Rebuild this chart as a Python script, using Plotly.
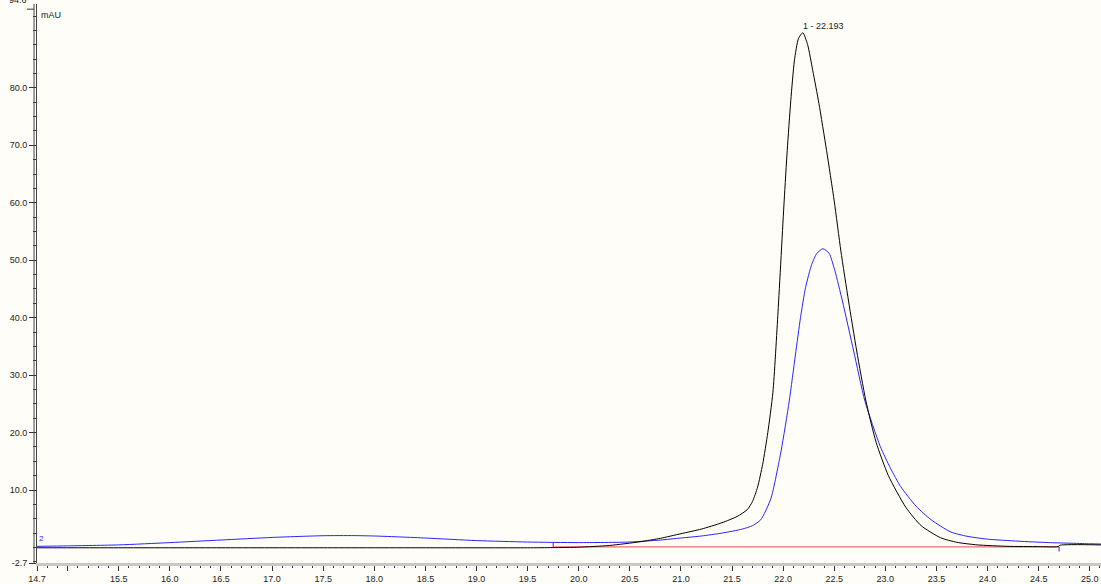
import plotly.graph_objects as go

# Retention time (min) / signal (mAU)
black_x = [14.70, 15.50, 16.50, 17.50, 18.50, 19.50, 19.75, 20.00, 20.30, 20.60, 20.80, 21.00, 21.20,
           21.40, 21.55, 21.65, 21.70, 21.75, 21.80, 21.85, 21.90, 21.95, 22.01, 22.04, 22.075,
           22.11, 22.15, 22.193, 22.24, 22.29, 22.35, 22.425, 22.50, 22.565, 22.64, 22.72, 22.81, 22.91,
           23.03, 23.20, 23.35, 23.54, 23.70, 23.90, 24.20, 24.50, 24.69, 24.71, 25.11]
black_y = [-0.05, -0.05, -0.05, -0.05, -0.05, -0.05, -0.02, 0.05, 0.35, 1.0, 1.6, 2.4, 3.2,
           4.3, 5.4, 6.6, 8.0, 10.5, 14.5, 20.0, 27.0, 41.0, 60.3, 69.1, 77.8,
           84.7, 88.6, 89.6, 87.5, 83.0, 77.3, 69.1, 60.3, 51.6, 42.9, 34.2, 25.5, 18.3,
           12.5, 7.0, 3.8, 1.7, 0.9, 0.45, 0.2, 0.15, 0.15, 0.4, 0.45]

blue_x = [14.70, 15.00, 15.50, 16.00, 16.50, 17.00, 17.50, 17.80, 18.00, 18.50, 19.00, 19.50,
          20.00, 20.50, 20.80, 21.00, 21.20, 21.40, 21.60, 21.70, 21.78, 21.88, 21.98, 22.06,
          22.12, 22.17, 22.22, 22.28, 22.33, 22.39, 22.45, 22.506, 22.58, 22.69, 22.80, 22.95, 23.05,
          23.15, 23.30, 23.45, 23.64, 23.80, 24.00, 24.30, 24.60, 25.00, 25.11]
blue_y = [0.20, 0.28, 0.45, 0.85, 1.30, 1.75, 2.05, 2.07, 2.00, 1.65, 1.20, 0.95,
          0.85, 0.95, 1.30, 1.65, 2.00, 2.50, 3.20, 3.80, 4.80, 8.50, 16.8, 25.5,
          33.5, 40.0, 45.3, 49.3, 51.2, 52.0, 51.2, 48.2, 42.9, 34.2, 25.5, 17.6, 13.8,
          10.6, 7.2, 4.8, 2.7, 1.95, 1.45, 1.10, 0.85, 0.65, 0.60]

baseline_x = [19.75, 24.70]
baseline_y = [0.10, 0.10]

peak_rt = 22.193
peak_height = 89.6
peak_label = "1 - 22.193"

x_min, x_max = 14.7, 25.11
y_min, y_max = -2.7, 94.6
y_top_label = 94.6

x_tickvals = [14.7] + [15.0 + 0.5 * i for i in range(21)]
x_ticktext = ["14.7", ""] + [f"{v:.1f}" for v in x_tickvals[2:]]
y_tickvals = [y_min, 10, 20, 30, 40, 50, 60, 70, 80]
y_ticktext = [f"{v:.1f}" for v in y_tickvals]

bg = "#FFFDF8"
font_fam = "Liberation Sans, Arial, sans-serif"

fig = go.Figure()
fig.add_trace(go.Scatter(x=blue_x, y=blue_y, mode="lines", line=dict(color="#2626FF", width=1, shape="spline", smoothing=0.6), hoverinfo="skip"))
fig.add_trace(go.Scatter(x=baseline_x, y=baseline_y, mode="lines", line=dict(color="#FF4040", width=1), hoverinfo="skip"))
fig.add_trace(go.Scatter(x=black_x, y=black_y, mode="lines", line=dict(color="#000000", width=1, shape="spline", smoothing=0.6), hoverinfo="skip"))
# baseline delimiters
fig.add_trace(go.Scatter(x=[baseline_x[0], baseline_x[0]], y=[0.10, 0.95], mode="lines", line=dict(color="#2626FF", width=1), hoverinfo="skip"))
fig.add_trace(go.Scatter(x=[baseline_x[1], baseline_x[1]], y=[0.10, -0.7], mode="lines", line=dict(color="#2626FF", width=1), hoverinfo="skip"))

fig.add_annotation(x=peak_rt, y=peak_height, text=peak_label, showarrow=False,
                   xanchor="left", yanchor="bottom", yshift=0, xshift=-2,
                   font=dict(size=9, color="#222", family=font_fam))
fig.add_annotation(x=0, y=1, xref="paper", yref="paper", text="mAU", showarrow=False,
                   xanchor="left", yanchor="top", xshift=2, yshift=-4,
                   font=dict(size=9, color="#222", family=font_fam))
fig.add_annotation(x=x_min, y=0.45, text="2", showarrow=False, xanchor="left", yanchor="bottom",
                   xshift=0, font=dict(size=8, color="#2626FF", family=font_fam))
# axis maximum label (partly cut at the top edge, as in the original)
fig.add_annotation(x=0, xref="paper", y=y_top_label, yref="y", text=f"{y_top_label:.1f}",
                   showarrow=False, xanchor="right", yanchor="middle", xshift=-8, yshift=4,
                   font=dict(size=9, color="#222", family=font_fam))
fig.add_shape(type="line", xref="paper", yref="y", x0=-0.0028, x1=-0.0028 - 7 / 1064,
              y0=y_top_label - 0.9, y1=y_top_label - 0.9, line=dict(color="#333", width=1))

# second (outer) y-axis line
fig.add_shape(type="line", xref="paper", yref="paper", x0=-0.0028, x1=-0.0028, y0=0, y1=1,
              line=dict(color="#444", width=1))

fig.update_layout(
    width=1101, height=584,
    margin=dict(l=37, r=0, t=4, b=21, autoexpand=False),
    paper_bgcolor=bg, plot_bgcolor=bg,
    showlegend=False,
    font=dict(family=font_fam, size=9, color="#222"),
)
fig.update_xaxes(range=[x_min, x_max], showgrid=False, zeroline=False, automargin=False,
                 showline=True, linecolor="#C8C8C8", linewidth=3,
                 tickmode="array", tickvals=x_tickvals, ticktext=x_ticktext,
                 ticks="outside", ticklen=5, tickcolor="#333", tickwidth=1,
                 tickfont=dict(size=9, color="#222"),
                 minor=dict(ticks="outside", tick0=15.0, dtick=0.1, ticklen=2, tickcolor="#333", showgrid=False))
fig.update_yaxes(range=[y_min, y_max], showgrid=False, zeroline=False, automargin=False,
                 showline=True, linecolor="#444", linewidth=1,
                 tickmode="array", tickvals=y_tickvals, ticktext=y_ticktext,
                 ticks="outside", ticklen=7, tickcolor="#333", tickwidth=1,
                 tickfont=dict(size=9, color="#222"),
                 minor=dict(ticks="outside", tick0=0, dtick=2.5, ticklen=3, tickcolor="#333", showgrid=False))

fig.write_html("out.html",
               config={"displayModeBar": False},
               post_script="document.body.style.margin='0';document.body.style.padding='0';"
                           "document.body.style.overflow='hidden';"
                           "document.documentElement.style.background='" + bg + "';")
